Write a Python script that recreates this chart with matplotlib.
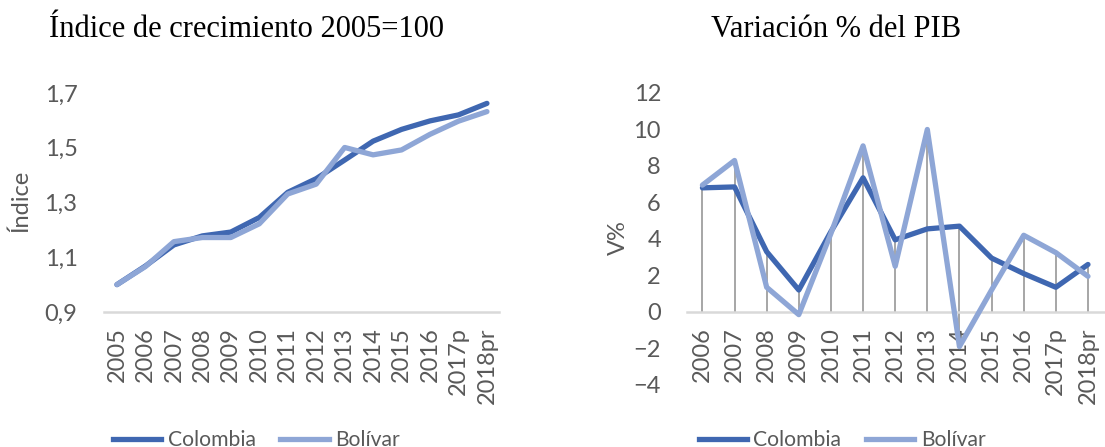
import numpy as np
import matplotlib
matplotlib.use('Agg')
import matplotlib.pyplot as plt
from matplotlib.lines import Line2D

# data
years_idx = ['2005', '2006', '2007', '2008', '2009', '2010', '2011', '2012',
             '2013', '2014', '2015', '2016', '2017p', '2018pr']
col_idx = [1.0, 1.068, 1.145, 1.178, 1.192, 1.245, 1.337, 1.387,
           1.455, 1.524, 1.567, 1.598, 1.620, 1.662]
bol_idx = [1.0, 1.066, 1.157, 1.172, 1.172, 1.222, 1.331, 1.367,
           1.501, 1.474, 1.492, 1.549, 1.597, 1.632]

years_var = ['2006', '2007', '2008', '2009', '2010', '2011', '2012',
             '2013', '2014', '2015', '2016', '2017p', '2018pr']
col_var = [6.8, 6.85, 3.3, 1.2, 4.4, 7.35, 3.95, 4.55, 4.7, 2.95, 2.1, 1.35, 2.6]
bol_var = [6.95, 8.3, 1.35, -0.15, 4.3, 9.1, 2.5, 10.0, -1.9, 1.2, 4.2, 3.25, 1.95]

DARK = '#3F67B1'
LIGHT = '#8EA6D6'
GREY_TXT = '#595959'
AXIS_GREY = '#D9D9D9'
DROP_GREY = '#A6A6A6'
FS = 17

plt.rcParams['font.family'] = ['Lato', 'DejaVu Sans']

fig = plt.figure(figsize=(11.05, 4.47), dpi=100)


def style_axis(ax, zero):
    # spine position first, it resets the tick labels
    for name, s in ax.spines.items():
        if name == 'bottom':
            s.set_position(('data', zero))
            s.set_color(AXIS_GREY)
            s.set_linewidth(1.8)
        else:
            s.set_visible(False)
    ax.patch.set_alpha(0)


def finish_ticks(ax):
    ax.tick_params(axis='x', length=0, pad=11, labelsize=FS, colors=GREY_TXT,
                   labelrotation=90)
    ax.tick_params(axis='y', length=0, pad=19, labelsize=FS, colors=GREY_TXT)
    for lbl in ax.get_xticklabels():
        lbl.set_va('top')
        lbl.set_ha('center')


# ---- left chart: growth index
ax1 = fig.add_axes([0.094, 0.302, 0.358, 0.490])
style_axis(ax1, 0.9)
x1 = np.arange(len(years_idx))
ax1.plot(x1, col_idx, color=DARK, lw=3.8, solid_capstyle='round', zorder=3)
ax1.plot(x1, bol_idx, color=LIGHT, lw=3.8, solid_capstyle='round', zorder=4)
ax1.set_xlim(-0.46, 13.44)
ax1.set_ylim(0.9, 1.7)
ax1.set_yticks([0.9, 1.1, 1.3, 1.5, 1.7])
ax1.set_yticklabels(['0,9', '1,1', '1,3', '1,5', '1,7'])
ax1.set_xticks(x1)
ax1.set_xticklabels(years_idx)
finish_ticks(ax1)
ax1.set_ylabel('Índice', fontsize=FS, color=GREY_TXT)
ax1.yaxis.set_label_coords(-0.184, 0.507)

# ---- right chart: GDP change
ax2 = fig.add_axes([0.622, 0.139, 0.378, 0.653])
style_axis(ax2, 0)
x2 = np.arange(len(years_var))
lo = np.minimum(0, np.minimum(col_var, bol_var))
hi = np.maximum(col_var, bol_var)
ax2.vlines(x2, lo, hi, color=DROP_GREY, lw=1.4, zorder=2)
ax2.plot(x2, col_var, color=DARK, lw=3.8, solid_capstyle='round', zorder=3)
ax2.plot(x2, bol_var, color=LIGHT, lw=3.8, solid_capstyle='round', zorder=4)
ax2.set_xlim(-0.47, 12.53)
ax2.set_ylim(-4, 12)
ax2.set_yticks(range(-4, 13, 2))
ax2.set_xticks(x2)
ax2.set_xticklabels(years_var)
finish_ticks(ax2)
ax2.set_ylabel('V%', fontsize=FS, color=GREY_TXT)
ax2.yaxis.set_label_coords(-0.14, 0.503)

# titles
fig.text(0.223, 0.935, 'Índice de crecimiento 2005=100', ha='center', va='center',
         fontsize=22, family='Liberation Serif', color='black')
fig.text(0.757, 0.935, 'Variación % del PIB', ha='center', va='center',
         fontsize=22, family='Liberation Serif', color='black')

# legends
handles = [Line2D([], [], color=DARK, lw=3.8), Line2D([], [], color=LIGHT, lw=3.8)]
for cx in (0.232, 0.762):
    fig.legend(handles, ['Colombia', 'Bolívar'], loc='center', ncol=2,
               bbox_to_anchor=(cx, 0.015), frameon=False, fontsize=15.2,
               labelcolor=GREY_TXT, handlelength=2.3, handletextpad=0.3,
               columnspacing=1.16)

fig.savefig('out.png', dpi=100)
